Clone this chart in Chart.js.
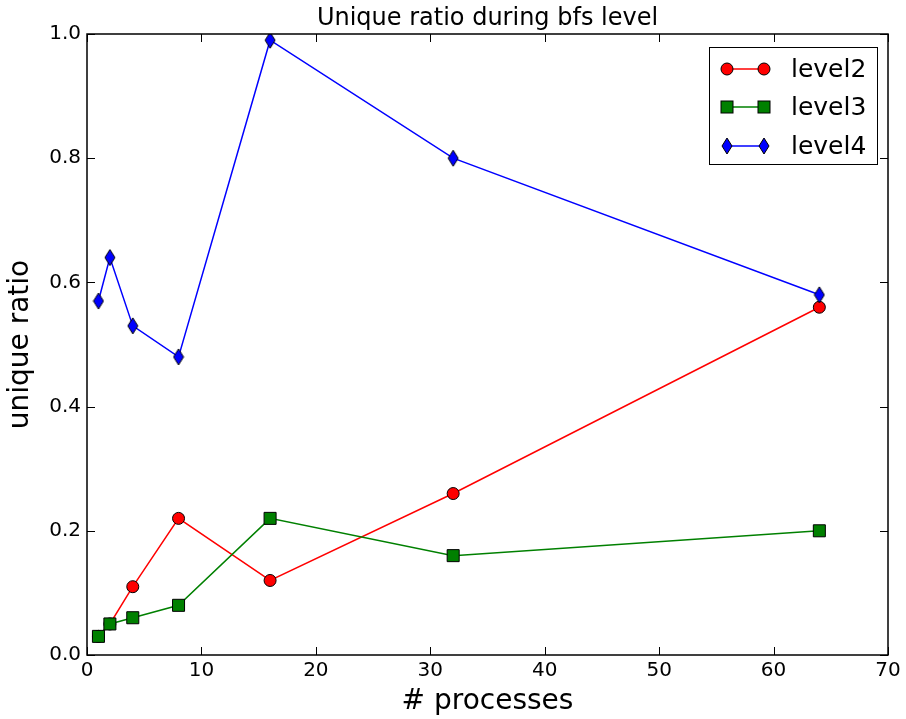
<!DOCTYPE html>
<html>
<head>
<meta charset="utf-8">
<script src="https://cdn.jsdelivr.net/npm/chart.js@4/dist/chart.umd.min.js"></script>
<style>
  body { margin: 0; background: #fff; }
  #wrap { width: 906px; height: 719px; }
</style>
</head>
<body>
<div id="wrap"><canvas id="uniq" width="906" height="719"></canvas></div>
<script>
// values
const processes = [1, 2, 4, 8, 16, 32, 64];
const level2 = [0.03, 0.05, 0.11, 0.22, 0.12, 0.26, 0.56];
const level3 = [0.03, 0.05, 0.06, 0.08, 0.22, 0.16, 0.20];
const level4 = [0.57, 0.64, 0.53, 0.48, 0.99, 0.80, 0.58];
const seriesNames = ['level2', 'level3', 'level4'];
const xTicks = [0, 10, 20, 30, 40, 50, 60, 70];
const yTicks = [0, 0.2, 0.4, 0.6, 0.8, 1.0];

const FONT = '"DejaVu Sans", "Bitstream Vera Sans", sans-serif';

// thin diamond like matplotlib's 'd'
function diamond(w, h) {
  const c = document.createElement('canvas');
  c.width = w + 2; c.height = h + 2;
  const g = c.getContext('2d');
  g.beginPath();
  g.moveTo(c.width / 2, 1);
  g.lineTo(c.width - 1, c.height / 2);
  g.lineTo(c.width / 2, c.height - 1);
  g.lineTo(1, c.height / 2);
  g.closePath();
  g.fillStyle = '#0000ff';
  g.fill();
  g.strokeStyle = '#000';
  g.lineWidth = 1;
  g.stroke();
  return c;
}
const diamondImg = diamond(10, 16);

function pts(ys) {
  return processes.map((x, i) => ({x: x, y: ys[i]}));
}

// frame, inward ticks, title and legend
const mplDecor = {
  id: 'mplDecor',
  afterDatasetsDraw(chart) {
    const ctx = chart.ctx, a = chart.chartArea;
    const xs = chart.scales.x, ys = chart.scales.y;
    ctx.save();
    ctx.strokeStyle = '#000';
    ctx.lineWidth = 1;
    xTicks.forEach(v => {
      const px = Math.round(xs.getPixelForValue(v)) + 0.5;
      ctx.beginPath();
      ctx.moveTo(px, a.bottom); ctx.lineTo(px, a.bottom - 8);
      ctx.moveTo(px, a.top); ctx.lineTo(px, a.top + 8);
      ctx.stroke();
    });
    yTicks.forEach(v => {
      const py = Math.round(ys.getPixelForValue(v)) + 0.5;
      ctx.beginPath();
      ctx.moveTo(a.left, py); ctx.lineTo(a.left + 8, py);
      ctx.moveTo(a.right, py); ctx.lineTo(a.right - 8, py);
      ctx.stroke();
    });
    ctx.lineWidth = 1.5;
    ctx.strokeRect(a.left, a.top, a.right - a.left, a.bottom - a.top);

    // title
    ctx.fillStyle = '#000';
    ctx.font = '24px ' + FONT;
    ctx.textAlign = 'center';
    ctx.textBaseline = 'alphabetic';
    ctx.fillText('Unique ratio during bfs level', (a.left + a.right) / 2, 25);

    // legend
    const bx = 709, by = 47, bw = 168, bh = 117;
    ctx.fillStyle = '#fff';
    ctx.fillRect(bx, by, bw, bh);
    ctx.lineWidth = 1;
    ctx.strokeStyle = '#000';
    ctx.strokeRect(bx + 0.5, by + 0.5, bw, bh);
    const rows = [69, 107, 146];
    chart.data.datasets.forEach((ds, i) => {
      const y = rows[i];
      ctx.strokeStyle = ds.borderColor;
      ctx.lineWidth = 1.5;
      ctx.beginPath();
      ctx.moveTo(727, y); ctx.lineTo(764, y);
      ctx.stroke();
      [727, 764].forEach(x => {
        if (ds.pointStyle === 'circle') {
          ctx.beginPath();
          ctx.arc(x, y, 6, 0, Math.PI * 2);
          ctx.fillStyle = ds.pointBackgroundColor;
          ctx.fill();
          ctx.strokeStyle = '#000'; ctx.lineWidth = 1;
          ctx.stroke();
        } else if (ds.pointStyle === 'rect') {
          ctx.fillStyle = ds.pointBackgroundColor;
          ctx.fillRect(x - 6, y - 6, 12, 12);
          ctx.strokeStyle = '#000'; ctx.lineWidth = 1;
          ctx.strokeRect(x - 6, y - 6, 12, 12);
        } else {
          ctx.drawImage(diamondImg, x - diamondImg.width / 2, y - diamondImg.height / 2);
        }
      });
      ctx.fillStyle = '#000';
      ctx.font = '25px ' + FONT;
      ctx.textAlign = 'left';
      ctx.textBaseline = 'middle';
      ctx.fillText(ds.label, 791, y + 1);
    });
    ctx.restore();
  }
};

new Chart(document.getElementById('uniq'), {
  type: 'line',
  data: {
    datasets: [
      {
        label: seriesNames[0], data: pts(level2), order: 3, clip: 0,
        borderColor: '#ff0000', borderWidth: 1.5,
        pointStyle: 'circle', pointRadius: 6,
        pointBackgroundColor: '#ff0000', pointBorderColor: '#000', pointBorderWidth: 1
      },
      {
        label: seriesNames[1], data: pts(level3), order: 2, clip: 0,
        borderColor: '#008000', borderWidth: 1.5,
        pointStyle: 'rect', pointRadius: 8.5,
        pointBackgroundColor: '#008000', pointBorderColor: '#000', pointBorderWidth: 1
      },
      {
        label: seriesNames[2], data: pts(level4), order: 1, clip: 0,
        borderColor: '#0000ff', borderWidth: 1.5,
        pointStyle: diamondImg, pointRadius: 8,
        pointBackgroundColor: '#0000ff', pointBorderColor: '#000', pointBorderWidth: 1
      }
    ]
  },
  options: {
    responsive: false,
    animation: false,
    events: [],
    layout: { padding: { top: 34, right: 18, left: 0, bottom: 0 } },
    plugins: { legend: { display: false }, tooltip: { enabled: false }, title: { display: false } },
    elements: { line: { tension: 0 } },
    scales: {
      x: {
        type: 'linear', min: 0, max: 70,
        afterFit(s) { s.height = 64; },
        afterBuildTicks(s) { s.ticks = xTicks.map(v => ({value: v})); },
        grid: { display: false, drawTicks: false },
        border: { display: false },
        ticks: { padding: 4, color: '#000', font: { family: FONT, size: 20 }, maxRotation: 0 },
        title: { display: true, text: '# processes', color: '#000', font: { family: FONT, size: 28 }, padding: { top: 0, bottom: 0 } }
      },
      y: {
        type: 'linear', min: 0, max: 1,
        afterFit(s) { s.width = 87; },
        afterBuildTicks(s) { s.ticks = yTicks.map(v => ({value: v})); },
        grid: { display: false, drawTicks: false },
        border: { display: false },
        ticks: { padding: 6, color: '#000', font: { family: FONT, size: 20 }, callback: v => v.toFixed(1) },
        title: { display: true, text: 'unique ratio', color: '#000', font: { family: FONT, size: 28 }, padding: { top: 4, bottom: 0 } }
      }
    }
  },
  plugins: [mplDecor]
});
</script>
</body>
</html>
